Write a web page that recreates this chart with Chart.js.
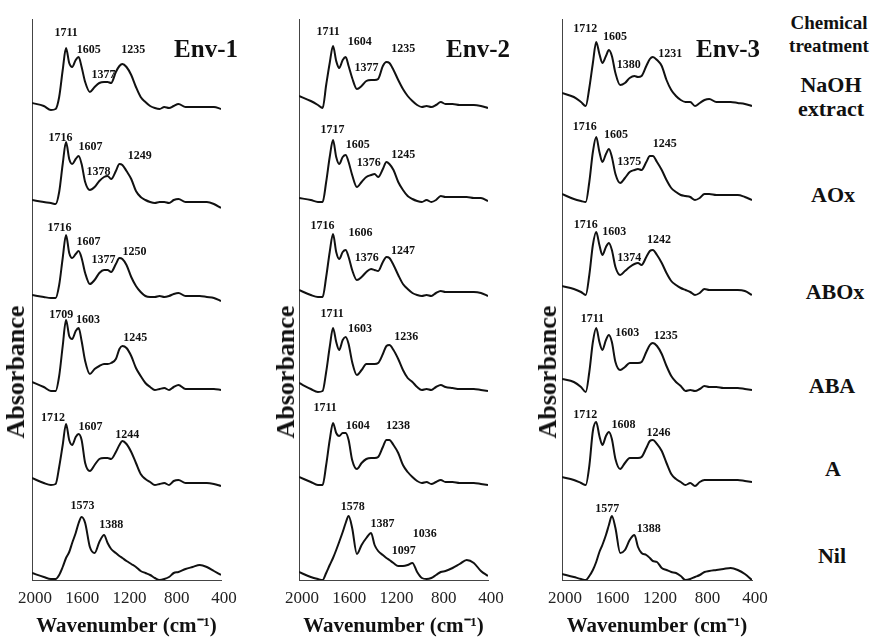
<!DOCTYPE html>
<html>
<head>
<meta charset="utf-8">
<title>FTIR spectra by chemical treatment</title>
<script src="https://cdn.jsdelivr.net/npm/chart.js@4.4.1/dist/chart.umd.min.js"></script>
<style>
  html, body { margin: 0; padding: 0; background: #fff; }
  #page { position: relative; width: 871px; height: 639px; overflow: hidden;
          font-family: "Liberation Serif", "Times New Roman", serif; color: #111; }
  .panel { position: absolute; top: 0; width: 260px; height: 639px; }
  .tag { position: absolute; font-weight: bold; text-align: center; white-space: nowrap;
         transform: translate(-50%, -50%); z-index: 2; }
  .env { font-size: 25px; line-height: 1; }
  .head { font-size: 19px; line-height: 23px; }
  .treat { font-size: 22px; line-height: 24px; }
  .ylab { font-size: 26px; line-height: 1; transform: translate(-50%, -50%) rotate(-90deg); }
</style>
</head>
<body>
<div id="page">
  <div class="panel" style="left:0px"><canvas id="env1"></canvas></div>
  <div class="panel" style="left:262px"><canvas id="env2"></canvas></div>
  <div class="panel" style="left:525px"><canvas id="env3"></canvas></div>

  <div class="tag ylab" style="left:16px;top:372px">Absorbance</div>
  <div class="tag ylab" style="left:286px;top:372px">Absorbance</div>
  <div class="tag ylab" style="left:548px;top:372px">Absorbance</div>

  <div class="tag env" style="left:206px;top:48px">Env-1</div>
  <div class="tag env" style="left:478px;top:48px">Env-2</div>
  <div class="tag env" style="left:728px;top:48px">Env-3</div>

  <div class="tag head" style="left:829px;top:34px">Chemical<br>treatment</div>
  <div class="tag treat" style="left:831px;top:97px">NaOH<br>extract</div>
  <div class="tag treat" style="left:833px;top:195px">AOx</div>
  <div class="tag treat" style="left:835px;top:292px">ABOx</div>
  <div class="tag treat" style="left:832px;top:386px">ABA</div>
  <div class="tag treat" style="left:833px;top:469px">A</div>
  <div class="tag treat" style="left:832px;top:556px">Nil</div>
</div>

<script>
// ==============================
// DATA (absorbance, arbitrary units)
// ==============================
const wavenumbers = [2000, 1900, 1840, 1800, 1770, 1740, 1712, 1685, 1660, 1630,
                     1605, 1580, 1550, 1510, 1470, 1430, 1390, 1360, 1330, 1290,
                     1260, 1235, 1200, 1160, 1120, 1080, 1040, 1000, 960, 920,
                     880, 840, 800, 760, 700, 640, 580, 520, 460, 400];

const xTicks = [2000, 1600, 1200, 800, 400];

const treatments = ["NaOH extract", "AOx", "ABOx", "ABA", "A", "Nil"];

// Env-1
const env1NaOH = [7, 4, 0, 1, 13, 40, 62, 47, 43, 50, 53, 43, 28, 18, 23, 27, 28, 28, 27, 38, 44, 46, 43, 35, 23, 13, 8, 4, 2, 1, 3, 2, 4, 6, 3, 3, 3, 3, 3, 1];
const env1AOx  = [4, 2, 1, 0, 12, 40, 62, 45, 40, 45, 48, 40, 22, 14, 17, 23, 27, 28, 25, 33, 40, 39, 33, 25, 13, 7, 4, 2, 1, 2, 2, 1, 4, 5, 2, 2, 2, 2, 0, -4];
const env1ABOx = [3, 1, 0, 0, 13, 40, 63, 45, 40, 44, 47, 40, 25, 14, 18, 25, 28, 28, 26, 34, 40, 39, 33, 21, 12, 6, 2, 1, 1, 2, 1, 2, 4, 5, 2, 2, 2, 1, 0, -3];
const env1ABA  = [9, 4, 0, 0, 15, 45, 71, 55, 52, 60, 63, 50, 30, 17, 22, 25, 27, 27, 28, 32, 42, 45, 43, 35, 23, 15, 8, 4, 1, 2, 3, 1, 4, 6, 2, 2, 2, 2, 2, 1];
const env1A    = [7, 2, 0, 1, 18, 40, 61, 45, 40, 48, 51, 45, 22, 14, 20, 26, 27, 27, 26, 33, 40, 44, 41, 33, 22, 11, 6, 3, 0, 1, 2, 0, 4, 5, 2, 2, 2, 2, 1, -1];
const env1Nil  = [7, 3, 1, 1, 5, 13, 22, 28, 37, 47, 57, 63, 57, 33, 27, 38, 45, 37, 31, 27, 24, 22, 19, 16, 13, 9, 7, 5, 2, 0, 1, 3, 7, 8, 11, 13, 15, 13, 9, 5];

// Env-2
const env2NaOH = [12, 7, 3, 0, 23, 45, 62, 47, 40, 48, 51, 42, 30, 19, 22, 27, 28, 28, 29, 42, 46, 45, 38, 28, 19, 12, 7, 3, 1, 2, 1, 3, 6, 4, 4, 3, 3, 3, 2, 0];
const env2AOx  = [4, 2, 0, 0, 20, 45, 62, 45, 38, 45, 47, 40, 27, 15, 20, 25, 27, 28, 25, 33, 40, 38, 32, 20, 12, 6, 3, 1, 0, 2, 0, 2, 6, 5, 5, 5, 5, 4, 4, 1];
const env2ABOx = [7, 2, 0, 0, 20, 45, 63, 45, 38, 45, 47, 40, 27, 17, 20, 25, 28, 27, 26, 35, 40, 39, 32, 22, 13, 8, 4, 2, 1, 2, 1, 4, 6, 5, 5, 5, 5, 5, 4, 1];
const env2ABA  = [9, 3, 0, 1, 20, 45, 64, 50, 42, 52, 55, 48, 30, 17, 22, 28, 28, 28, 29, 38, 46, 47, 42, 33, 22, 14, 10, 5, 2, 3, 2, 5, 7, 5, 4, 3, 3, 3, 2, 1];
const env2A    = [8, 3, 0, 0, 20, 45, 62, 52, 49, 52, 52, 45, 25, 16, 22, 26, 27, 27, 28, 38, 45, 45, 40, 32, 20, 13, 8, 4, 2, 3, 1, 3, 5, 3, 3, 2, 2, 2, 1, 0];
const env2Nil  = [8, 3, 1, 0, 7, 15, 22, 30, 38, 48, 57, 64, 52, 26, 35, 42, 47, 35, 29, 25, 22, 20, 17, 14, 14, 15, 17, 8, 2, 1, 2, 5, 8, 9, 12, 16, 20, 17, 9, 4];

// Env-3
const env3NaOH = [13, 9, 4, 0, 18, 43, 64, 52, 43, 50, 56, 50, 33, 21, 23, 28, 30, 29, 30, 40, 47, 49, 46, 40, 26, 16, 10, 6, 4, 4, 0, 3, 6, 7, 4, 4, 4, 3, 2, 0];
const env3AOx  = [8, 3, 1, 0, 20, 50, 65, 50, 40, 48, 53, 45, 28, 19, 24, 30, 32, 33, 32, 40, 46, 46, 40, 32, 22, 14, 10, 7, 6, 5, 2, 4, 8, 8, 7, 7, 7, 7, 5, 2];
const env3ABOx = [9, 6, 3, 0, 20, 50, 63, 50, 40, 48, 52, 45, 28, 20, 24, 28, 31, 32, 30, 38, 44, 45, 40, 32, 22, 14, 10, 7, 5, 3, 0, 2, 6, 5, 5, 5, 5, 5, 4, 0];
const env3ABA  = [13, 10, 5, 0, 20, 50, 64, 50, 42, 52, 57, 50, 30, 22, 25, 29, 29, 29, 30, 40, 47, 49, 46, 38, 26, 16, 10, 6, 1, 2, 1, 3, 6, 5, 5, 4, 4, 4, 3, 2];
const env3A    = [9, 6, 3, 1, 20, 55, 64, 50, 41, 50, 54, 47, 27, 17, 23, 28, 28, 28, 29, 38, 45, 46, 42, 35, 23, 12, 7, 4, 1, 3, 0, 4, 6, 6, 6, 6, 6, 6, 5, 4];
const env3Nil  = [6, 3, 1, 0, 4, 10, 18, 28, 35, 45, 55, 64, 52, 27, 30, 40, 45, 33, 27, 25, 22, 19, 18, 12, 10, 8, 7, 4, 0, 1, 3, 5, 8, 9, 10, 11, 12, 10, 6, 0];

// vertical stacking offset of each spectrum (same order as treatments)
const env1Offsets = [470, 376, 282, 189, 95, 0];
const env2Offsets = [472, 378, 283, 188, 95, 0];
const env3Offsets = [474, 378, 285, 188, 94, 0];

// labelled peak positions (cm-1)
const env1Peaks = [[1711, 1605, 1377, 1235], [1716, 1607, 1378, 1249], [1716, 1607, 1377, 1250],
                   [1709, 1603, 1245], [1712, 1607, 1244], [1573, 1388]];
const env2Peaks = [[1711, 1604, 1377, 1235], [1717, 1605, 1376, 1245], [1716, 1606, 1376, 1247],
                   [1711, 1603, 1236], [1711, 1604, 1238], [1578, 1387, 1097, 1036]];
const env3Peaks = [[1712, 1605, 1380, 1231], [1716, 1605, 1375, 1245], [1716, 1603, 1374, 1242],
                   [1711, 1603, 1235], [1712, 1608, 1246], [1577, 1388]];

// ==============================
// STYLE / LAYOUT
// ==============================
const FONT = "'Liberation Serif', 'Times New Roman', serif";

// pixel nudge of each peak label from its point on the curve
const env1Nudges = [[[0, -16], [10, -7], [-2, -7], [11, -14]], [[-5, -7], [12, -9], [-7, -5], [19, -9]],
                    [[-6, -10], [10, -9], [-2, -10], [14, -6]], [[-5, -7], [9, -9], [14, -9]],
                    [[-13, -6], [12, -7], [6, -8]], [[0, -12], [7, -11]]];
const env2Nudges = [[[-5, -15], [14, -15], [-6, -12], [14, -14]], [[0, -13], [12, -10], [-4, -12], [15, -8]],
                    [[-10, -11], [15, -17], [-6, -12], [15, -7]], [[-1, -15], [14, -9], [17, -8]],
                    [[-8, -15], [12, -7], [9, -14]], [[4, -10], [11, -10], [-2, -15], [12, -30]]];
const env3Nudges = [[[-11, -13], [6, -13], [-7, -11], [17, -3]], [[-11, -12], [7, -14], [-7, -8], [13, -12]],
                    [[-10, -9], [5, -12], [-7, -6], [7, -10]], [[-4, -10], [18, -3], [13, -7]],
                    [[-11, -7], [15, -8], [7, -8]], [[-5, -8], [14, -7]]];

// ==============================
// PEAK LABEL PLUGIN
// ==============================
function valueAt(values, wn) {
  for (let i = 0; i < wavenumbers.length - 1; i++) {
    const a = wavenumbers[i], b = wavenumbers[i + 1];
    if (wn <= a && wn >= b) {
      const t = (a - wn) / (a - b);
      return values[i] + t * (values[i + 1] - values[i]);
    }
  }
  return 0;
}

const peakLabels = {
  id: "peakLabels",
  afterDatasetsDraw(chart, args, opts) {
    const { ctx, scales: { x, y } } = chart;
    ctx.save();
    ctx.font = "bold 12px " + FONT;
    ctx.fillStyle = "#111";
    ctx.textAlign = "center";
    ctx.textBaseline = "middle";
    opts.peaks.forEach((row, r) => {
      row.forEach((wn, k) => {
        const [dx, dy] = opts.nudges[r][k];
        const px = x.getPixelForValue(wn);
        const py = y.getPixelForValue(opts.offsets[r] + valueAt(opts.spectra[r], wn));
        ctx.fillText(String(wn), px + dx, py + dy);
      });
    });
    ctx.restore();
  }
};

// ==============================
// PANEL CHART
// ==============================
function loadPanel(id, spectra, offsets, peaks, nudges, box) {
  const datasets = spectra.map((vals, r) => ({
    label: treatments[r],
    data: vals.map((v, i) => ({ x: wavenumbers[i], y: offsets[r] + v })),
    borderColor: "#111",
    borderWidth: 2,
    pointRadius: 0,
    fill: false,
    cubicInterpolationMode: "monotone"
  }));

  new Chart(document.getElementById(id), {
    type: "line",
    data: { datasets },
    options: {
      responsive: true,
      maintainAspectRatio: false,
      animation: false,
      layout: { padding: { left: box.padLeft, right: box.padRight, top: 19, bottom: 0 } },
      plugins: {
        legend: { display: false },
        tooltip: { enabled: false },
        peakLabels: { spectra, offsets, peaks, nudges }
      },
      scales: {
        x: {
          type: "linear",
          reverse: true,
          min: xTicks[xTicks.length - 1],
          max: xTicks[0],
          afterBuildTicks: s => { s.ticks = xTicks.map(v => ({ value: v })); },
          ticks: { maxRotation: 0, padding: 8, labelOffset: 3,
                   callback: v => String(v),
                   color: "#222", font: { family: FONT, size: 17 } },
          grid: { display: false, drawTicks: false },
          border: { display: true, color: "#444", width: 1 },
          title: { display: true, text: "Wavenumber (cm\u207B\u00B9)", color: "#111",
                   font: { family: FONT, size: 21, weight: "bold" }, padding: { top: 0, bottom: 0 } },
          afterFit: s => { s.height = 59; }
        },
        y: {
          min: 0,
          max: 561,
          ticks: { display: false },
          grid: { display: false, drawTicks: false },
          border: { display: true, color: "#444", width: 1 },
          title: { display: false },
          afterFit: s => { s.width = box.axisW; }
        }
      }
    },
    plugins: [peakLabels]
  });
}

loadPanel("env1", [env1NaOH, env1AOx, env1ABOx, env1ABA, env1A, env1Nil], env1Offsets, env1Peaks, env1Nudges,
          { padLeft: 0, axisW: 32, padRight: 39 });
loadPanel("env2", [env2NaOH, env2AOx, env2ABOx, env2ABA, env2A, env2Nil], env2Offsets, env2Peaks, env2Nudges,
          { padLeft: 8, axisW: 29, padRight: 34 });
loadPanel("env3", [env3NaOH, env3AOx, env3ABOx, env3ABA, env3A, env3Nil], env3Offsets, env3Peaks, env3Nudges,
          { padLeft: 3, axisW: 34, padRight: 33 });
</script>
</body>
</html>
